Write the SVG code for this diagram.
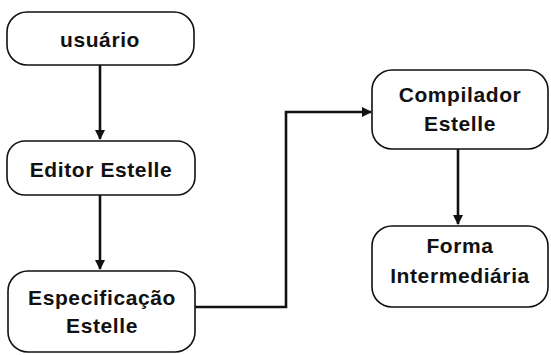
<svg xmlns="http://www.w3.org/2000/svg" width="551" height="355" viewBox="0 0 551 355">
  <style>
    .box { fill: #ffffff; stroke: #111111; stroke-width: 1.6; }
    .lbl { font-family: "Liberation Sans", Arial, sans-serif; font-weight: bold; font-size: 21px; letter-spacing: 0.6px; fill: #111111; text-anchor: middle; }
    .wire { fill: none; stroke: #111111; stroke-width: 2.6; }
  </style>
  <defs>
    <marker id="arrow" viewBox="0 0 10 10" refX="9" refY="5" markerWidth="4" markerHeight="4" orient="auto" markerUnits="strokeWidth">
      <path d="M0,0 L10,5 L0,10 z" fill="#111111"/>
    </marker>
  </defs>
  <rect width="551" height="355" fill="#ffffff"/>

  <g id="connectors">
    <line class="wire" x1="100" y1="65" x2="100" y2="139" marker-end="url(#arrow)"/>
    <line class="wire" x1="100" y1="195" x2="100" y2="269" marker-end="url(#arrow)"/>
    <polyline class="wire" points="195,307 286,307 286,112 371,112" marker-end="url(#arrow)"/>
    <line class="wire" x1="458" y1="149" x2="458" y2="224" marker-end="url(#arrow)"/>
  </g>

  <g id="usuario">
    <rect class="box" x="7" y="12" width="187" height="53" rx="20"/>
    <text class="lbl" x="100" y="47">usuário</text>
  </g>

  <g id="editor">
    <rect class="box" x="7" y="141" width="188" height="54" rx="18"/>
    <text class="lbl" x="101" y="177">Editor Estelle</text>
  </g>

  <g id="especificacao">
    <rect class="box" x="8" y="271" width="187" height="81" rx="20"/>
    <text class="lbl" x="102" y="305">Especificação</text>
    <text class="lbl" x="102" y="333">Estelle</text>
  </g>

  <g id="compilador">
    <rect class="box" x="372" y="70" width="176" height="79" rx="20"/>
    <text class="lbl" x="460" y="102">Compilador</text>
    <text class="lbl" x="460" y="131">Estelle</text>
  </g>

  <g id="forma">
    <rect class="box" x="372" y="226" width="176" height="81" rx="20"/>
    <text class="lbl" x="460" y="253">Forma</text>
    <text class="lbl" x="460" y="283">Intermediária</text>
  </g>
</svg>
